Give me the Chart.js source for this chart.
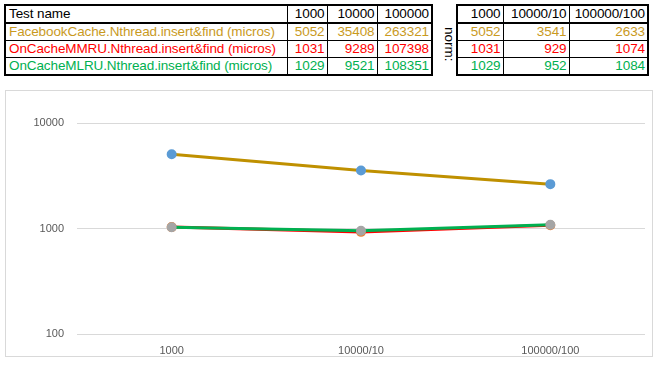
<!DOCTYPE html>
<html>
<head>
<meta charset="utf-8">
<script src="https://cdn.jsdelivr.net/npm/chart.js@4/dist/chart.umd.min.js"></script>
<style>
  html, body { margin: 0; padding: 0; background: #fff; width: 659px; height: 365px; overflow: hidden; }
  body { position: relative; font-family: "Liberation Sans", Arial, sans-serif; }
  table { position: absolute; border-collapse: collapse; font-size: 13.5px; letter-spacing: -0.1px; table-layout: fixed; }
  td { padding: 0 2px; height: 16px; line-height: 16px; white-space: nowrap; border-left: 1px solid #000; border-right: 1px solid #000; border-bottom: 1px solid #000; text-align: right; overflow: hidden; }
  tr.hdr td { border-bottom: 2px solid #000; color: #000; }
  table { border: 2px solid #000; }
  td.name { text-align: left; padding-left: 3px; }
  .c0 { color: #C99A1E; }
  .c1 { color: #FF0000; }
  .c2 { color: #00B050; }
  #norm { position: absolute; left: 440px; top: 27px; width: 20px; font-size: 13.5px; }
  #box { position: absolute; left: 5px; top: 90px; width: 646px; height: 265px; border: 1px solid #d9d9d9; }
  #c { position: absolute; left: 0; top: 0; }
</style>
</head>
<body>
<table id="t1" style="left:4px; top:4px;"></table>
<div id="norm"><div style="transform: rotate(90deg); transform-origin: 0 0; position:absolute; left:17px; top:0; white-space:nowrap;">norm:</div></div>
<table id="t2" style="left:456px; top:4px;"></table>
<div id="box"><canvas id="c" width="646" height="265"></canvas></div>
<script>
// ---- data ----
const testNames = ["FacebookCache.Nthread.insert&find (micros)", "OnCacheMMRU.Nthread.insert&find (micros)", "OnCacheMLRU.Nthread.insert&find (micros)"];
const rawHeaders = ["1000", "10000", "100000"];
const normHeaders = ["1000", "10000/10", "100000/100"];
const facebookRaw = [5052, 35408, 263321];
const mmruRaw = [1031, 9289, 107398];
const mlruRaw = [1029, 9521, 108351];
const facebookNorm = [5052, 3541, 2633];
const mmruNorm = [1031, 929, 1074];
const mlruNorm = [1029, 952, 1084];
const yTicks = [100, 1000, 10000];

// ---- tables ----
const raws = [facebookRaw, mmruRaw, mlruRaw];
const norms = [facebookNorm, mmruNorm, mlruNorm];
const t1 = document.getElementById('t1');
const t1w = [282, 40, 50, 55];
let h = '<colgroup>' + t1w.map(w => '<col style="width:' + w + 'px">').join('') + '</colgroup>';
h += '<tr class="hdr"><td class="name">Test name</td>' + rawHeaders.map(x => '<td>' + x + '</td>').join('') + '</tr>';
testNames.forEach((n, i) => {
  h += '<tr class="c' + i + '"><td class="name">' + n.replace('&', '&amp;') + '</td>' + raws[i].map(v => '<td>' + v + '</td>').join('') + '</tr>';
});
t1.innerHTML = h;
const t2 = document.getElementById('t2');
const t2w = [46, 66, 79];
h = '<colgroup>' + t2w.map(w => '<col style="width:' + w + 'px">').join('') + '</colgroup>';
h += '<tr class="hdr">' + normHeaders.map(x => '<td>' + x + '</td>').join('') + '</tr>';
norms.forEach((r, i) => {
  h += '<tr class="c' + i + '">' + r.map(v => '<td>' + v + '</td>').join('') + '</tr>';
});
t2.innerHTML = h;

// ---- chart ----
const tickFont = { family: "'Liberation Sans', Arial, sans-serif", size: 11 };
new Chart(document.getElementById('c'), {
  type: 'line',
  data: {
    labels: normHeaders,
    datasets: [
      { label: testNames[0], data: facebookNorm, borderColor: '#BF9000', backgroundColor: '#5B9BD5', pointBackgroundColor: '#5B9BD5', pointBorderColor: '#5B9BD5', borderWidth: 3, pointRadius: 3.5, order: 3 },
      { label: testNames[1], data: mmruNorm, borderColor: '#FF0000', backgroundColor: '#ED7D31', pointBackgroundColor: '#ED7D31', pointBorderColor: '#ED7D31', borderWidth: 3, pointRadius: 3.5, order: 2 },
      { label: testNames[2], data: mlruNorm, borderColor: '#00B050', backgroundColor: '#A5A5A5', pointBackgroundColor: '#A5A5A5', pointBorderColor: '#A5A5A5', borderWidth: 3, pointRadius: 3.5, order: 1 }
    ]
  },
  options: {
    responsive: false,
    animation: false,
    layout: { padding: { top: 32, left: 0, right: 5, bottom: 0 } },
    plugins: { legend: { display: false }, tooltip: { enabled: false } },
    scales: {
      x: {
        offset: true,
        grid: { display: false },
        border: { display: false },
        ticks: { color: '#595959', font: tickFont, padding: 2, maxRotation: 0 },
        afterFit: s => { s.height = 22; }
      },
      y: {
        type: 'logarithmic',
        min: 100, max: 10000,
        afterBuildTicks: s => { s.ticks = yTicks.map(v => ({ value: v })); },
        grid: { color: '#d9d9d9', lineWidth: 1, drawTicks: false },
        border: { display: false },
        ticks: { color: '#595959', font: tickFont, padding: 13, callback: v => String(v) },
        afterFit: s => { s.width = 71; }
      }
    }
  }
});
</script>
</body>
</html>
